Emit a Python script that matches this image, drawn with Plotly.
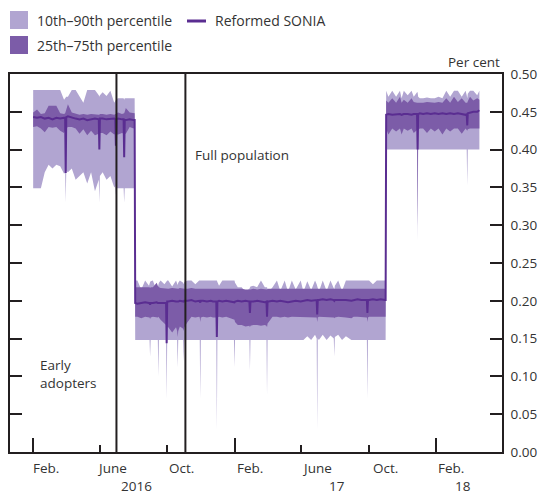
import plotly.graph_objects as go

# ---------------- data (per cent) ----------------
# Period 1: early adopters, Bank Rate 0.5%
dates_1 = ["2016-02-01","2016-02-08","2016-02-15","2016-02-22","2016-02-29","2016-03-07","2016-03-14","2016-03-21","2016-03-28","2016-03-30",
           "2016-03-31","2016-04-01","2016-04-04","2016-04-11","2016-04-18","2016-04-25","2016-05-02","2016-05-09","2016-05-16","2016-05-23",
           "2016-05-30","2016-05-31","2016-06-01","2016-06-06","2016-06-13","2016-06-20","2016-06-27","2016-06-29","2016-06-30","2016-07-01",
           "2016-07-04","2016-07-11","2016-07-14","2016-07-15","2016-07-16","2016-07-18","2016-07-25","2016-08-01","2016-08-03"]
p90_1 = [.479,.479,.479,.479,.479,.479,.479,.479,.466,.468, .468,.470,.470,.479,.479,.470,.462,.479,.479,.479,
         .472,.470,.472,.476,.471,.478,.462,.464,.465,.467, .468,.468,.468,.466,.468,.468,.468,.468,.468]
p75_1 = [.449,.453,.447,.448,.458,.458,.458,.448,.447,.448, .450,.452,.460,.449,.447,.446,.447,.446,.447,.446,
         .446,.446,.447,.447,.446,.447,.446,.447,.447,.448, .449,.447,.448,.448,.450,.455,.449,.448,.448]
med_1 = [.443,.442,.443,.441,.442,.440,.442,.441,.442,.442, .369,.443,.444,.443,.441,.440,.441,.439,.440,.441,
         .440,.400,.441,.441,.440,.441,.441,.440,.405,.440, .441,.440,.440,.390,.439,.439,.440,.439,.439]
p25_1 = [.430,.431,.428,.423,.430,.429,.430,.425,.422,.425, .369,.428,.430,.430,.428,.421,.427,.419,.425,.419,
         .421,.400,.422,.422,.419,.424,.420,.421,.403,.420, .420,.422,.421,.390,.421,.421,.430,.428,.430]
p10_1 = [.349,.349,.349,.370,.380,.375,.380,.378,.368,.370, .330,.372,.370,.375,.360,.365,.370,.355,.370,.345,
         .360,.330,.365,.370,.360,.365,.350,.352,.340,.349, .349,.349,.349,.330,.349,.349,.349,.349,.349]

# Period 2: Bank Rate 0.25%
dates_2 = ["2016-08-04","2016-08-08","2016-08-15","2016-08-22","2016-08-29","2016-08-30","2016-08-31","2016-09-01","2016-09-05","2016-09-12",
           "2016-09-14","2016-09-15","2016-09-16","2016-09-19","2016-09-26","2016-09-29","2016-09-30","2016-10-01","2016-10-03","2016-10-10",
           "2016-10-17","2016-10-19","2016-10-20","2016-10-21","2016-10-24","2016-10-30","2016-10-31","2016-11-01","2016-11-07","2016-11-14",
           "2016-11-21","2016-11-28","2016-11-29","2016-11-30","2016-12-01","2016-12-05","2016-12-12","2016-12-19","2016-12-23","2016-12-29",
           "2016-12-30","2016-12-31","2017-01-03","2017-01-09","2017-01-16","2017-01-23","2017-01-30","2017-01-31","2017-02-01","2017-02-06",
           "2017-02-13","2017-02-20","2017-02-27","2017-02-28","2017-03-01","2017-03-06","2017-03-13","2017-03-20","2017-03-27","2017-03-30",
           "2017-03-31","2017-04-01","2017-04-03","2017-04-10","2017-04-18","2017-04-24","2017-05-02","2017-05-08","2017-05-15","2017-05-22",
           "2017-05-31","2017-06-05","2017-06-12","2017-06-19","2017-06-26","2017-06-29","2017-06-30","2017-07-01","2017-07-03","2017-07-10",
           "2017-07-17","2017-07-24","2017-07-30","2017-07-31","2017-08-01","2017-08-07","2017-08-14","2017-08-21","2017-08-31","2017-09-04",
           "2017-09-11","2017-09-18","2017-09-25","2017-09-28","2017-09-29","2017-09-30","2017-10-02","2017-10-09","2017-10-16","2017-10-23",
           "2017-10-31","2017-11-01"]
p90_2 = [.227,.227,.215,.227,.220,.224,.225,.226,.227,.213, .220,.222,.224,.227,.222,.225,.227,.227,.227,.219,
         .227,.223,.221,.224,.227,.224,.222,.225,.227,.227, .222,.227,.227,.227,.227,.227,.227,.227,.227,.227,
         .227,.225,.220,.227,.227,.227,.227,.227,.224,.218, .218,.212,.216,.218,.219,.220,.218,.227,.218,.218,
         .218,.215,.212,.218,.227,.213,.227,.212,.227,.215, .227,.212,.226,.214,.227,.222,.220,.216,.212,.227,
         .213,.227,.218,.215,.220,.227,.213,.227,.227,.227, .227,.227,.227,.227,.227,.227,.227,.222,.227,.227,
         .227,.227]
p75_2 = [.218,.218,.219,.218,.218,.218,.217,.218,.218,.224, .220,.219,.218,.217,.216,.216,.216,.216,.216,.217,
         .216,.216,.216,.216,.217,.216,.216,.216,.216,.217, .216,.216,.216,.216,.216,.217,.216,.216,.217,.216,
         .216,.216,.216,.217,.216,.216,.216,.216,.216,.216, .216,.215,.215,.215,.215,.216,.215,.216,.215,.215,
         .215,.216,.216,.216,.216,.216,.216,.216,.217,.216, .216,.216,.216,.216,.216,.216,.216,.216,.216,.216,
         .216,.216,.216,.216,.216,.216,.216,.216,.216,.216, .216,.216,.216,.216,.216,.216,.216,.216,.216,.217,
         .216,.216]
med_2 = [.197,.196,.197,.198,.197,.197,.195,.197,.197,.198, .197,.197,.197,.196,.197,.197,.144,.199,.199,.200,
         .199,.199,.198,.199,.200,.199,.199,.200,.200,.201, .199,.200,.199,.198,.200,.200,.199,.200,.199,.199,
         .152,.199,.200,.199,.200,.199,.199,.198,.199,.200, .199,.200,.199,.184,.199,.199,.200,.199,.198,.199,
         .179,.199,.199,.200,.199,.200,.199,.198,.199,.200, .199,.200,.201,.200,.201,.201,.182,.201,.201,.202,
         .201,.202,.201,.200,.201,.201,.202,.201,.200,.201, .202,.201,.201,.201,.184,.201,.201,.202,.201,.202,
         .201,.201]
p25_2 = [.179,.179,.177,.179,.178,.178,.176,.178,.179,.178, .178,.179,.178,.175,.170,.168,.144,.166,.165,.158,
         .165,.160,.152,.160,.166,.163,.160,.165,.172,.179, .178,.179,.178,.172,.178,.179,.178,.179,.178,.178,
         .150,.178,.179,.178,.179,.177,.176,.175,.172,.168, .168,.166,.167,.165,.167,.168,.168,.167,.168,.167,
         .165,.170,.172,.179,.179,.178,.179,.178,.179,.179, .178,.179,.179,.178,.179,.178,.172,.178,.179,.179,
         .178,.179,.178,.177,.178,.179,.179,.178,.177,.179, .179,.179,.178,.178,.172,.178,.179,.179,.179,.178,
         .179,.179]
p10_2 = [.148,.148,.148,.148,.148,.148,.126,.148,.148,.148, .148,.100,.148,.148,.148,.148,.070,.148,.148,.148,
         .148,.148,.112,.148,.148,.148,.120,.148,.148,.148, .148,.148,.148,.070,.148,.148,.148,.148,.148,.148,
         .030,.148,.148,.148,.148,.148,.148,.112,.148,.148, .148,.148,.148,.108,.148,.148,.148,.148,.148,.148,
         .075,.148,.148,.148,.148,.148,.148,.148,.148,.148, .148,.148,.153,.148,.155,.150,.030,.150,.148,.155,
         .148,.154,.150,.126,.152,.155,.148,.153,.148,.148, .148,.148,.148,.148,.070,.148,.148,.148,.148,.148,
         .148,.148]

# Period 3: Bank Rate 0.5%
dates_3 = ["2017-11-02","2017-11-06","2017-11-13","2017-11-20","2017-11-27","2017-11-30","2017-12-04","2017-12-11","2017-12-18","2017-12-22",
           "2017-12-28","2017-12-29","2017-12-30","2018-01-02","2018-01-08","2018-01-15","2018-01-22","2018-01-29","2018-02-05","2018-02-12",
           "2018-02-19","2018-02-26","2018-03-05","2018-03-12","2018-03-19","2018-03-26","2018-03-28","2018-03-29","2018-03-30","2018-04-03",
           "2018-04-09","2018-04-16","2018-04-20"]
p90_3 = [.478,.470,.478,.470,.478,.468,.478,.472,.478,.470, .476,.476,.470,.468,.468,.469,.468,.468,.470,.468,
         .478,.470,.478,.478,.470,.478,.472,.468,.474,.478, .478,.472,.478]
p75_3 = [.465,.462,.468,.462,.470,.462,.466,.462,.468,.463, .462,.462,.462,.462,.462,.463,.462,.462,.463,.462,
         .468,.462,.470,.463,.468,.462,.462,.462,.464,.470, .465,.468,.466]
med_3 = [.446,.447,.446,.447,.447,.446,.447,.447,.446,.447, .447,.400,.447,.448,.447,.448,.447,.448,.447,.448,
         .447,.448,.447,.448,.447,.446,.447,.432,.448,.449, .450,.450,.452]
p25_3 = [.428,.420,.428,.424,.428,.420,.428,.425,.428,.422, .426,.300,.426,.428,.428,.422,.428,.424,.428,.420,
         .428,.424,.428,.428,.421,.428,.426,.425,.427,.428, .428,.428,.428]
p10_3 = [.400,.400,.400,.400,.400,.400,.400,.400,.400,.400, .400,.280,.400,.400,.400,.400,.400,.400,.400,.400,
         .400,.400,.400,.400,.400,.400,.400,.353,.400,.400, .400,.400,.400]

dates = dates_1 + dates_2 + dates_3
p90 = p90_1 + p90_2 + p90_3
p75 = p75_1 + p75_2 + p75_3
median = med_1 + med_2 + med_3
p25 = p25_1 + p25_2 + p25_3
p10 = p10_1 + p10_2 + p10_3
for s in (p90, p75, median, p25, p10):
    assert len(s) == len(dates), (len(s), len(dates))

major_ticks = ["2016-02-01", "2017-02-01", "2018-02-01"]
minor_ticks = ["2016-06-01", "2016-10-01", "2017-06-01", "2017-10-01"]
month_label_dates = ["2016-02-24", "2016-06-23", "2016-10-27", "2017-02-28", "2017-06-30", "2017-10-31", "2018-02-28"]
month_labels = ["Feb.", "June", "Oct.", "Feb.", "June", "Oct.", "Feb."]
year_label_dates = ["2016-08-07", "2017-08-05", "2018-03-21"]
year_labels = ["2016", "17", "18"]
event_lines = ["2016-07-01", "2016-11-03"]

# ---------------- style ----------------
LIGHT = "#B1A5D1"
DARK = "#7C5CA8"
MED = "#5A2D91"
AX = "#231F20"
TXT = "#333333"
FONT = "Open Sans"

W, H = 539, 495
L, R, T, B = 10, 37, 74, 43
pw, ph = W - L - R, H - T - B

def px(x):
    return (x - L) / pw

def py(y):
    return (H - B - y) / ph

fig = go.Figure()
fig.add_trace(go.Scatter(x=dates, y=p10, mode="lines", line=dict(width=0), hoverinfo="skip", showlegend=False))
fig.add_trace(go.Scatter(x=dates, y=p90, mode="lines", line=dict(width=0), fill="tonexty",
                         fillcolor=LIGHT, hoverinfo="skip", showlegend=False))
fig.add_trace(go.Scatter(x=dates, y=p25, mode="lines", line=dict(width=0), hoverinfo="skip", showlegend=False))
fig.add_trace(go.Scatter(x=dates, y=p75, mode="lines", line=dict(width=0), fill="tonexty",
                         fillcolor=DARK, hoverinfo="skip", showlegend=False))
fig.add_trace(go.Scatter(x=dates, y=median, mode="lines", line=dict(color=MED, width=2),
                         showlegend=False))

shapes = []
for d in event_lines:
    shapes.append(dict(type="line", xref="x", yref="paper", x0=d, x1=d, y0=0, y1=1,
                       line=dict(color=AX, width=2), layer="above"))
# legend swatches
shapes.append(dict(type="rect", xref="paper", yref="paper", x0=px(10), x1=px(28), y0=py(29), y1=py(11),
                   fillcolor=LIGHT, line=dict(width=0)))
shapes.append(dict(type="rect", xref="paper", yref="paper", x0=px(10), x1=px(28), y0=py(54), y1=py(36),
                   fillcolor=DARK, line=dict(width=0)))
shapes.append(dict(type="line", xref="paper", yref="paper", x0=px(187), x1=px(206), y0=py(21), y1=py(21),
                   line=dict(color=MED, width=3)))

ann = []
def text(x, y, s, xanchor="left", yanchor="middle", xref="paper", align="left", size=13.5):
    ann.append(dict(x=x, y=y, xref=xref, yref="paper", text=s, showarrow=False, xanchor=xanchor,
                    yanchor=yanchor, align=align, font=dict(family=FONT, size=size, color=TXT)))

text(px(35), py(21), "10th–90th percentile", size=14)
text(px(35), py(46), "25th–75th percentile", size=14)
text(px(213), py(21), "Reformed SONIA", size=14)
text(px(502), py(62), "Per cent", xanchor="right")
text(px(193), py(155), "Full population")
text(px(38), py(374), "Early<br>adopters")
for d, s in zip(month_label_dates, month_labels):
    text(d, py(468), s, xanchor="center", xref="x")
for d, s in zip(year_label_dates, year_labels):
    text(d, py(486), s, xanchor="center", xref="x")

fig.update_layout(
    width=W, height=H, margin=dict(l=L, r=R, t=T, b=B, autoexpand=False),
    plot_bgcolor="white", paper_bgcolor="white",
    font=dict(family=FONT, size=13.5, color=TXT),
    shapes=shapes, annotations=ann, showlegend=False,
    xaxis=dict(type="date", range=["2015-12-21", "2018-05-31"], showgrid=False, zeroline=False,
               automargin=False,
               showline=True, linecolor=AX, linewidth=1.5, mirror=True,
               tickmode="array", tickvals=major_ticks, ticks="inside", ticklen=14, tickwidth=1.5,
               tickcolor=AX, showticklabels=False,
               minor=dict(tickmode="array", tickvals=minor_ticks, ticks="inside", ticklen=7,
                          tickwidth=1.5, tickcolor=AX)),
    yaxis=dict(range=[0, 0.5], side="right", showgrid=False, zeroline=False, automargin=False,
               showline=True, linecolor=AX, linewidth=1.5, mirror="ticks",
               tickmode="linear", tick0=0, dtick=0.05, tickformat=".2f",
               ticks="inside", ticklen=12, tickwidth=1.5, tickcolor=AX,
               ticklabelstandoff=4, tickfont=dict(family=FONT, size=13.5, color=TXT)),
)

fig.write_html("out.html", config={"displayModeBar": False},
               post_script="document.body.style.margin='0';")
